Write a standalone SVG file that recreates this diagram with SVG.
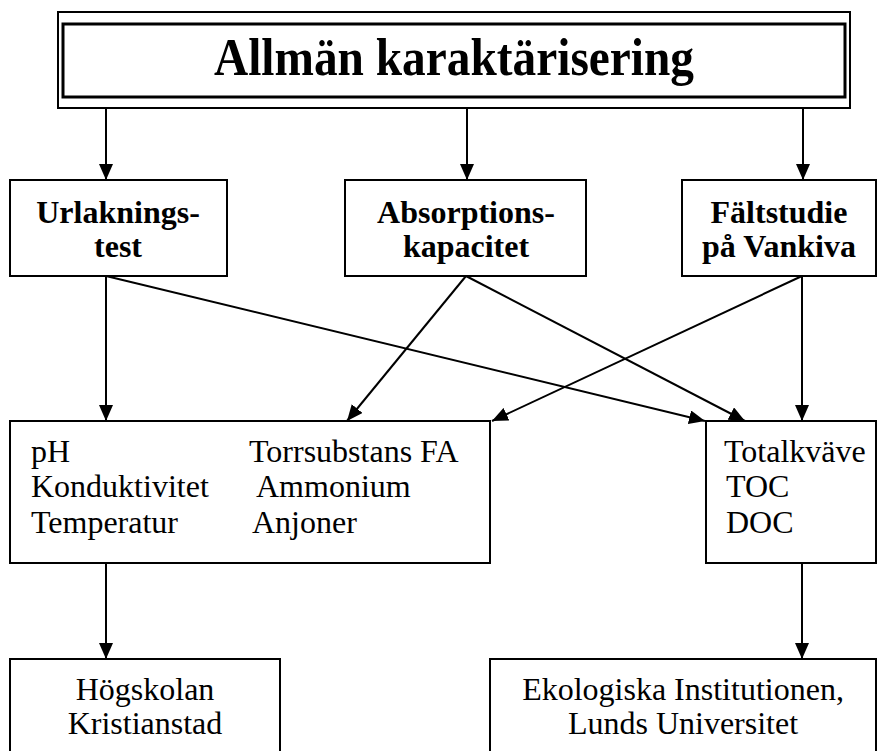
<svg xmlns="http://www.w3.org/2000/svg" width="887" height="751" viewBox="0 0 887 751">
<defs>
<marker id="ah" markerUnits="userSpaceOnUse" markerWidth="16" markerHeight="14" refX="16" refY="7" orient="auto">
<path d="M0,0 L16,7 L0,14 Z" fill="#000"/>
</marker>
<style>
.box{fill:#fff;stroke:#000;stroke-width:2}
.b{font-family:"Liberation Serif","Times New Roman",serif;font-weight:bold;font-size:32px;text-anchor:middle}
.n{font-family:"Liberation Serif","Times New Roman",serif;font-size:32px}
.c{text-anchor:middle}
.ln{stroke:#000;stroke-width:2;fill:none;marker-end:url(#ah)}
</style>
</defs>
<rect width="887" height="751" fill="#fff"/>
<g id="top">
<rect x="58" y="12" width="792" height="96" class="box"/>
<rect x="63" y="24" width="782" height="73" fill="none" stroke="#000" stroke-width="3"/>
<text x="454" y="75" font-family="Liberation Serif, Times New Roman, serif" font-weight="bold" font-size="52" text-anchor="middle" textLength="480" lengthAdjust="spacingAndGlyphs">Allmän karaktärisering</text>
</g>
<g id="urlakning">
<rect x="10" y="180" width="217" height="96" class="box"/>
<text x="118" y="223" class="b">Urlaknings-</text>
<text x="118" y="257" class="b">test</text>
</g>
<g id="absorption">
<rect x="345" y="180" width="241" height="96" class="box"/>
<text x="466" y="223" class="b">Absorptions-</text>
<text x="466" y="257" class="b">kapacitet</text>
</g>
<g id="faltstudie">
<rect x="682" y="180" width="194" height="96" class="box"/>
<text x="779" y="223" class="b">Fältstudie</text>
<text x="779" y="257" class="b">på Vankiva</text>
</g>
<g id="params">
<rect x="10" y="421" width="480" height="142" class="box"/>
<text x="31" y="462" class="n">pH</text>
<text x="31" y="497" class="n">Konduktivitet</text>
<text x="31" y="533" class="n">Temperatur</text>
<text x="249" y="462" class="n">Torrsubstans FA</text>
<text x="256" y="497" class="n">Ammonium</text>
<text x="252" y="533" class="n">Anjoner</text>
</g>
<g id="kvave">
<rect x="706" y="421" width="170" height="142" class="box"/>
<text x="724" y="462" class="n">Totalkväve</text>
<text x="726" y="497" class="n">TOC</text>
<text x="726" y="533" class="n">DOC</text>
</g>
<g id="hogskolan">
<rect x="10" y="659" width="270" height="110" class="box"/>
<text x="145" y="700" class="n c">Högskolan</text>
<text x="145" y="734" class="n c">Kristianstad</text>
</g>
<g id="lund">
<rect x="490" y="659" width="386" height="110" class="box"/>
<text x="683" y="700" class="n c">Ekologiska Institutionen,</text>
<text x="683" y="734" class="n c">Lunds Universitet</text>
</g>
<g id="connectors">
<line x1="106" y1="108" x2="106" y2="180" class="ln"/>
<line x1="467" y1="108" x2="467" y2="180" class="ln"/>
<line x1="803" y1="108" x2="803" y2="180" class="ln"/>
<line x1="106" y1="276" x2="106" y2="421" class="ln"/>
<line x1="106" y1="276" x2="705" y2="421" class="ln"/>
<line x1="466" y1="276" x2="347" y2="421" class="ln"/>
<line x1="466" y1="276" x2="745" y2="421" class="ln"/>
<line x1="802" y1="276" x2="802" y2="421" class="ln"/>
<line x1="802" y1="276" x2="492" y2="421" class="ln"/>
<line x1="106" y1="563" x2="106" y2="659" class="ln"/>
<line x1="802" y1="563" x2="802" y2="659" class="ln"/>
</g>
</svg>
